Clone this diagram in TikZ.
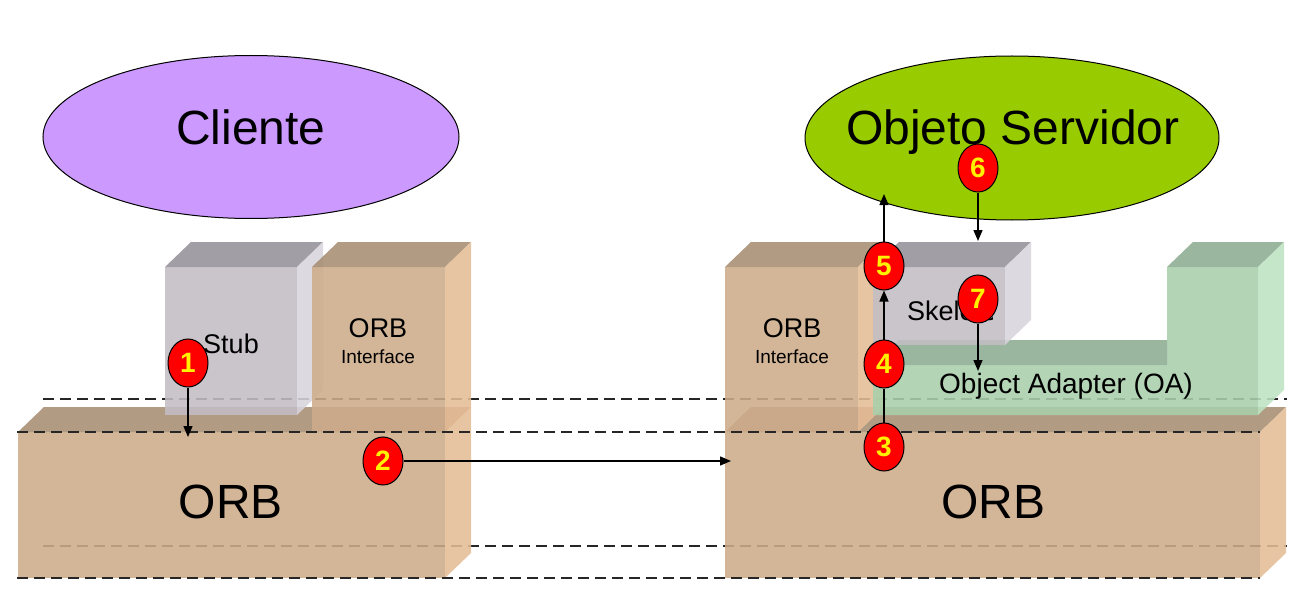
\documentclass[tikz,border=0pt]{standalone}
\usepackage{fontspec}
\setmainfont{Liberation Sans}
\usetikzlibrary{shapes.geometric,arrows.meta}
\definecolor{orbF}{HTML}{CDAC8A}
\definecolor{orbT}{HTML}{A78D72}
\definecolor{orbS}{HTML}{E5BD95}
\definecolor{stF}{HTML}{C2BDC4}
\definecolor{stT}{HTML}{959198}
\definecolor{stS}{HTML}{D8D4DC}
\definecolor{grF}{HTML}{A9CFAC}
\definecolor{grT}{HTML}{8DAC91}
\definecolor{grS}{HTML}{BDE3C2}
\definecolor{cliC}{HTML}{CC99FF}
\definecolor{srvC}{HTML}{99CC00}
% x1 y1 x2 y2 front top side
\newcommand{\orbbox}[7]{%
  \fill[#5] (#1,#2) rectangle (#3,#4);
  \fill[#6] (#1,#2) -- (#1+26,#2-25) -- (#3+26,#2-25) -- (#3,#2) -- cycle;
  \fill[#7] (#3,#2) -- (#3+26,#2-25) -- (#3+26,#4-25) -- (#3,#4) -- cycle;
}
\begin{document}
\begin{tikzpicture}[x=1pt,y=-1pt,
  dashln/.style={dash pattern=on 11pt off 6pt, line width=1.4pt, black!85},
  num/.style={ellipse, draw=black, line width=1pt, fill=red, minimum width=40pt,
    minimum height=48pt, inner sep=0pt, text=yellow,
    font=\fontsize{28}{28}\selectfont\bfseries},
  arr/.style={line width=1.4pt, -{Triangle[length=11pt,width=9pt]}},
  link/.style={line width=1.4pt},
  bigtxt/.style={inner sep=0pt, anchor=base, font=\fontsize{48}{48}\selectfont},
  midtxt/.style={inner sep=0pt, anchor=base, font=\fontsize{27}{27}\selectfont},
  smalltxt/.style={inner sep=0pt, anchor=base, font=\fontsize{19}{19}\selectfont},
  oval/.style={ellipse, draw=black, line width=1pt, minimum width=416pt,
    minimum height=163pt, inner sep=0pt}]
\useasboundingbox (0,0) rectangle (1304,607);

% ellipses
\node[oval, fill=cliC] (cli) at (251,137) {};
\node[oval, fill=srvC, minimum width=414pt, minimum height=164pt] (srv) at (1012,138) {};
\node[bigtxt] (clitxt) at (251,145) {Cliente};
\node[bigtxt] (srvtxt) at (1013,145) {Objeto Servidor};

% back dashed lines
\draw[dashln] (43,399) -- (1287,399);
\draw[dashln] (43,546) -- (1287,546);

\begin{scope}[fill opacity=0.88]
  % left side
  \orbbox{18}{432}{445}{578}{orbF}{orbT}{orbS}
  \orbbox{165}{267}{297}{415}{stF}{stT}{stS}
  \orbbox{312}{267}{445}{432}{orbF}{orbT}{orbS}
  % right side
  \orbbox{725}{432}{1260}{578}{orbF}{orbT}{orbS}
  \orbbox{725}{267}{858}{432}{orbF}{orbT}{orbS}
  % object adapter
  \fill[grF] (873,365) -- (1167,365) -- (1167,267) -- (1258,267) -- (1258,415) -- (873,415) -- cycle;
  \fill[grT] (873,365) -- (899,340) -- (1167,340) -- (1167,365) -- cycle;
  \fill[grT] (1167,267) -- (1193,242) -- (1284,242) -- (1258,267) -- cycle;
  \fill[grS] (1258,267) -- (1284,242) -- (1284,390) -- (1258,415) -- cycle;
  % skeleton
  \orbbox{873}{267}{1005}{345}{stF}{stT}{stS}
\end{scope}

% front dashed lines
\draw[dashln] (17,432) -- (1260,432);
\draw[dashln] (17,578) -- (1260,578);

% texts
\node[midtxt] (stub) at (231,353) {Stub};
\node[midtxt] (oiL) at (378,337) {ORB};
\node[smalltxt] (oiLb) at (378,363) {Interface};
\node[midtxt] (oiR) at (792,337) {ORB};
\node[smalltxt] (oiRb) at (792,363) {Interface};
\node[bigtxt] (orbL) at (231,518) {ORB};
\node[bigtxt] (orbR) at (993,518) {ORB};
\begin{scope}
  \clip (873,267) rectangle (992,345);
  \node[midtxt, anchor=base west] (skel) at (907,320) {Skeleton};
\end{scope}
\node[midtxt, font=\fontsize{28}{28}\selectfont] (oa) at (1066,393) {Object Adapter (OA)};

% numbered markers
\node[num] (c1) at (188,363) {1};
\node[num] (c2) at (383,461) {2};
\node[num] (c3) at (884,447) {3};
\node[num] (c4) at (884,364) {4};
\node[num] (c5) at (884,266) {5};
\node[num] (c6) at (978,168) {6};
\node[num] (c7) at (978,299) {7};

\coordinate (t1) at (188,437);
\coordinate (t2) at (731,461);
\coordinate (t5) at (884,194);
\coordinate (t6) at (978,241);
\coordinate (t7) at (978,371);

\draw[arr] (c1) -- (t1);
\draw[arr] (c2) -- (t2);
\draw[link] (c3) -- (c4);
\draw[arr] (c4) -- (c5);
\draw[arr] (c5) -- (t5);
\draw[arr] (c6) -- (t6);
\draw[arr] (c7) -- (t7);
\end{tikzpicture}
\end{document}
